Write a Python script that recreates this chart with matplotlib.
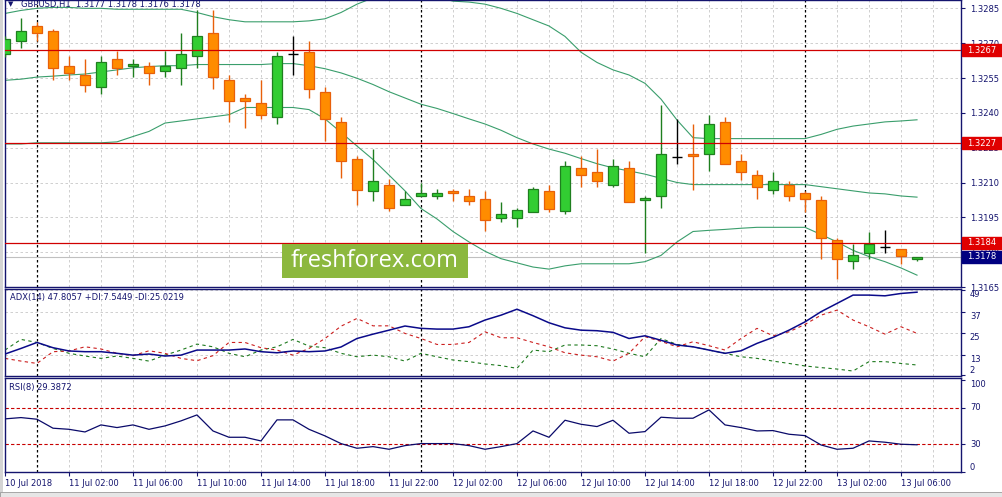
import matplotlib
matplotlib.use('Agg')
import matplotlib.pyplot as plt
from matplotlib.patches import Rectangle
import numpy as np
import pandas as pd

# GBPUSD H1 bars, 10 Jul 22:00 .. 13 Jul 07:00
start_time = '2018-07-10 22:00'
opens = [1.32652, 1.32711, 1.32774, 1.32751, 1.32603, 1.32563, 1.32513, 1.32630, 1.32603, 1.32603,
         1.32581, 1.32594, 1.32643, 1.32742, 1.32540, 1.32464, 1.32441, 1.32383, 1.32652, 1.32661,
         1.32491, 1.32361, 1.32203, 1.32064, 1.32091, 1.32001, 1.32042, 1.32042, 1.32064, 1.32042,
         1.32028, 1.31947, 1.31947, 1.31974, 1.32064, 1.31979, 1.32163, 1.32145, 1.32091, 1.32163,
         1.32024, 1.32042, 1.32208, 1.32221, 1.32221, 1.32361, 1.32194, 1.32132, 1.32069, 1.32091,
         1.32055, 1.32024, 1.31853, 1.31763, 1.31795, 1.31822, 1.31813, 1.31770]
highs = [1.32733, 1.32810, 1.32792, 1.32760, 1.32643, 1.32630, 1.32643, 1.32666, 1.32630, 1.32621,
         1.32666, 1.32742, 1.32841, 1.32841, 1.32563, 1.32482, 1.32540, 1.32661, 1.32733, 1.32711,
         1.32513, 1.32383, 1.32212, 1.32244, 1.32114, 1.32064, 1.32096, 1.32073, 1.32073, 1.32073,
         1.32064, 1.32015, 1.31992, 1.32082, 1.32091, 1.32194, 1.32212, 1.32244, 1.32203, 1.32194,
         1.32042, 1.32432, 1.32374, 1.32352, 1.32392, 1.32383, 1.32221, 1.32154, 1.32145, 1.32105,
         1.32064, 1.32042, 1.31862, 1.31835, 1.31885, 1.31894, 1.31813, 1.31780]
lows = [1.32639, 1.32679, 1.32711, 1.32540, 1.32540, 1.32491, 1.32482, 1.32563, 1.32554, 1.32522,
        1.32554, 1.32522, 1.32594, 1.32504, 1.32361, 1.32334, 1.32374, 1.32352, 1.32563, 1.32464,
        1.32280, 1.32118, 1.32001, 1.32019, 1.31979, 1.32001, 1.32042, 1.32028, 1.32019, 1.32001,
        1.31889, 1.31929, 1.31907, 1.31974, 1.31974, 1.31965, 1.32082, 1.32082, 1.32082, 1.32015,
        1.31795, 1.31992, 1.32181, 1.32069, 1.32150, 1.32181, 1.32109, 1.32028, 1.32051, 1.32019,
        1.31974, 1.31772, 1.31683, 1.31727, 1.31772, 1.31795, 1.31750, 1.31760]
closes = [1.32720, 1.32751, 1.32742, 1.32594, 1.32572, 1.32522, 1.32621, 1.32594, 1.32612, 1.32572,
          1.32603, 1.32652, 1.32733, 1.32554, 1.32450, 1.32450, 1.32392, 1.32643, 1.32652, 1.32504,
          1.32374, 1.32194, 1.32069, 1.32105, 1.31992, 1.32028, 1.32055, 1.32055, 1.32055, 1.32019,
          1.31938, 1.31965, 1.31983, 1.32073, 1.31988, 1.32172, 1.32132, 1.32105, 1.32172, 1.32015,
          1.32033, 1.32221, 1.32208, 1.32212, 1.32352, 1.32181, 1.32145, 1.32082, 1.32105, 1.32042,
          1.32028, 1.31862, 1.31772, 1.31786, 1.31835, 1.31822, 1.31782, 1.31780]

# Bollinger bands
bb_upper = [1.32828, 1.32841, 1.32850, 1.32854, 1.32854, 1.32850, 1.32850, 1.32846, 1.32846, 1.32846,
            1.32846, 1.32846, 1.32832, 1.32814, 1.32801, 1.32792, 1.32792, 1.32792, 1.32792, 1.32796,
            1.32805, 1.32832, 1.32868, 1.32895, 1.32913, 1.32917, 1.32913, 1.32899, 1.32881, 1.32877,
            1.32868, 1.32850, 1.32828, 1.32801, 1.32774, 1.32729, 1.32661, 1.32617, 1.32585, 1.32563,
            1.32527, 1.32459, 1.32369, 1.32293, 1.32289, 1.32289, 1.32289, 1.32289, 1.32289, 1.32289,
            1.32289, 1.32307, 1.32329, 1.32343, 1.32352, 1.32361, 1.32365, 1.32370]
bb_mid = [1.32540, 1.32545, 1.32554, 1.32558, 1.32563, 1.32567, 1.32576, 1.32585, 1.32594, 1.32599,
          1.32603, 1.32603, 1.32608, 1.32608, 1.32608, 1.32608, 1.32608, 1.32612, 1.32612, 1.32603,
          1.32590, 1.32572, 1.32549, 1.32522, 1.32491, 1.32464, 1.32437, 1.32419, 1.32397, 1.32374,
          1.32352, 1.32325, 1.32293, 1.32266, 1.32244, 1.32226, 1.32203, 1.32181, 1.32163, 1.32150,
          1.32136, 1.32118, 1.32100, 1.32091, 1.32091, 1.32091, 1.32091, 1.32091, 1.32091, 1.32091,
          1.32091, 1.32082, 1.32073, 1.32064, 1.32055, 1.32051, 1.32042, 1.32037]
bb_lower = [1.32266, 1.32266, 1.32271, 1.32271, 1.32271, 1.32271, 1.32271, 1.32275, 1.32298, 1.32320,
            1.32356, 1.32365, 1.32374, 1.32383, 1.32392, 1.32423, 1.32423, 1.32423, 1.32423, 1.32414,
            1.32374, 1.32316, 1.32257, 1.32199, 1.32132, 1.32064, 1.31988, 1.31943, 1.31889, 1.31844,
            1.31804, 1.31772, 1.31754, 1.31736, 1.31727, 1.31741, 1.31750, 1.31750, 1.31750, 1.31750,
            1.31759, 1.31786, 1.31844, 1.31889, 1.31894, 1.31898, 1.31903, 1.31907, 1.31907, 1.31907,
            1.31907, 1.31876, 1.31844, 1.31808, 1.31781, 1.31759, 1.31732, 1.31701]

adx_main = [13.6, 16.7, 20.0, 17.1, 15.3, 14.9, 14.9, 14.0, 13.0, 13.6,
            12.5, 13.0, 15.8, 15.8, 15.8, 16.4, 14.9, 14.3, 15.3, 14.9,
            15.3, 17.5, 22.2, 24.6, 26.8, 29.1, 27.8, 27.4, 27.4, 28.7,
            32.4, 35.1, 38.4, 34.8, 30.9, 28.1, 26.8, 26.5, 25.6, 22.2,
            23.7, 21.2, 18.6, 17.6, 15.8, 14.0, 15.4, 19.5, 22.8, 26.8,
            31.4, 37.0, 41.6, 46.2, 46.2, 45.8, 47.1, 47.81]
plus_di = [15.8, 21.7, 20.0, 16.7, 14.0, 12.5, 11.2, 12.5, 11.2, 9.7,
           13.0, 15.8, 19.1, 17.6, 14.0, 12.1, 15.8, 17.6, 21.7, 18.0,
           17.1, 14.0, 12.1, 13.0, 12.1, 9.7, 14.0, 12.1, 10.3, 9.4,
           8.1, 7.2, 5.7, 15.8, 14.9, 18.6, 18.6, 18.2, 16.4, 14.0,
           12.1, 22.2, 18.9, 17.6, 15.8, 14.0, 12.1, 11.2, 9.7, 8.4,
           7.0, 6.1, 5.3, 4.2, 9.4, 9.4, 8.4, 7.54]
minus_di = [11.2, 9.7, 8.4, 14.9, 15.3, 17.6, 16.4, 14.0, 12.7, 15.4,
            14.0, 11.2, 9.9, 12.7, 20.0, 20.0, 17.1, 15.8, 13.0, 16.7,
            22.2, 29.0, 33.3, 29.2, 29.2, 25.0, 22.2, 18.9, 18.9, 20.0,
            25.9, 22.6, 22.6, 20.0, 17.6, 14.3, 13.0, 12.1, 9.7, 14.0,
            23.2, 20.6, 17.6, 20.4, 18.2, 15.8, 22.2, 27.8, 23.7, 25.9,
            30.0, 35.1, 37.9, 32.4, 28.7, 24.6, 28.7, 25.02]
rsi_vals = [57.7, 59.1, 57.3, 47.5, 46.3, 43.4, 51.1, 48.2, 51.1, 46.3,
            50.0, 55.5, 62.0, 44.5, 37.6, 37.6, 33.6, 56.6, 56.6, 46.3,
            39.1, 30.7, 25.6, 27.4, 24.5, 28.5, 30.7, 30.7, 30.7, 28.5,
            24.5, 27.4, 30.7, 44.5, 37.6, 56.2, 51.8, 49.3, 56.2, 42.0,
            43.8, 59.5, 58.4, 58.4, 67.5, 51.1, 48.2, 44.5, 44.9, 40.9,
            39.4, 29.2, 24.5, 25.6, 33.6, 32.2, 30.0, 29.39]

levels = [1.3267, 1.3227, 1.3184]
last_price = 1.3178
price_ticks = [1.3165, 1.3180, 1.3195, 1.3210, 1.3225, 1.3240, 1.3255, 1.3270, 1.3285]
adx_ticks = [2, 13, 25, 37, 49]
rsi_ticks = [0, 30, 70, 100]
rsi_levels = [30, 70]

title = 'GBPUSD,H1  1.3177 1.3178 1.3176 1.3178'
adx_title = 'ADX(14) 47.8057 +DI:7.5449 -DI:25.0219'
rsi_title = 'RSI(8) 29.3872'

NAVY = '#14146e'
BULL_FILL, BULL_EDGE = '#32cd32', '#1f7f1f'
BEAR_FILL, BEAR_EDGE = '#ff8c00', '#e8600a'
GRID = '#c8c8c8'
FONT = 6

W, H = 1003, 497
fig = plt.figure(figsize=(W / 100, H / 100), dpi=100)
fig.patch.set_facecolor('white')


def px_axes(left, top, right, bottom):
    return fig.add_axes([left / W, 1 - bottom / H, (right - left) / W, (bottom - top) / H])


ax = px_axes(4.5, 0, 961.5, 287)
ax_adx = px_axes(4.5, 288.5, 961.5, 375.7)
ax_rsi = px_axes(4.5, 378.3, 961.5, 471.7)
panels = [ax, ax_adx, ax_rsi]

o, h, l, c = (np.array(v) for v in (opens, highs, lows, closes))
x = np.arange(len(o))
times = pd.date_range(start_time, periods=len(o), freq='h')
day_bars = [i for i, t in enumerate(times) if t.hour == 0]

for a in panels:
    a.set_xlim(-0.03, 59.78)
    for sp in a.spines.values():
        sp.set_color(NAVY)
        sp.set_linewidth(1)
    for xi in range(0, 60, 2):
        if xi not in day_bars:
            a.axvline(xi, color=GRID, lw=0.6, ls=(0, (3, 3)), zorder=0)
    for xi in day_bars:
        a.axvline(xi, color='black', lw=0.9, ls=(0, (2, 2)), zorder=1)
    a.tick_params(axis='x', bottom=False, labelbottom=False)
    a.yaxis.tick_right()
    a.tick_params(axis='y', colors=NAVY, labelsize=FONT, length=3, pad=3, width=0.8)

# main panel
ax.set_ylim(1.316972, 1.328859)
for lv in price_ticks:
    ax.axhline(lv, color=GRID, lw=0.6, ls=(0, (3, 3)), zorder=0)
ax.set_yticks(price_ticks)
ax.set_yticklabels(['%.4f' % v for v in price_ticks])
ax.axhline(last_price, color='#c0c0c0', lw=0.8, zorder=1)

for band in (bb_upper, bb_mid, bb_lower):
    ax.plot(x, band, color='#3a9e6c', lw=0.8, zorder=2)

up = c > o
dn = c < o
dj = c == o
bw = 0.6
ax.vlines(x[up], l[up], h[up], color=BULL_EDGE, lw=1, zorder=3)
ax.bar(x[up], c[up] - o[up], bottom=o[up], width=bw, color=BULL_FILL,
       edgecolor=BULL_EDGE, linewidth=0.9, zorder=4)
ax.vlines(x[dn], l[dn], h[dn], color=BEAR_EDGE, lw=1, zorder=3)
ax.bar(x[dn], o[dn] - c[dn], bottom=c[dn], width=bw, color=BEAR_FILL,
       edgecolor=BEAR_EDGE, linewidth=0.9, zorder=4)
ax.vlines(x[dj], l[dj], h[dj], color='black', lw=1, zorder=3)
ax.hlines(c[dj], x[dj] - bw / 2, x[dj] + bw / 2, color='black', lw=1, zorder=4)

ytr = ax.get_yaxis_transform()
box_h = 0.00052
for lv in levels:
    ax.axhline(lv, color='#d00000', lw=0.9, zorder=5)
for lv, col in [(v, '#e00000') for v in levels] + [(last_price, '#000080')]:
    ax.add_patch(Rectangle((1.0006, lv - box_h / 2), 0.0415, box_h, transform=ytr,
                           facecolor=col, edgecolor=col, clip_on=False, zorder=10))
    ax.text(1.0062, lv, '%.4f' % lv, transform=ytr, color='white', fontsize=FONT,
            va='center', ha='left', clip_on=False, zorder=11)

# ADX panel
ax_adx.set_ylim(1.62, 49.85)
for lv in adx_ticks[1:]:
    ax_adx.axhline(lv, color=GRID, lw=0.6, ls=(0, (3, 3)), zorder=0)
ax_adx.plot(x, plus_di, color='#1e7a1e', lw=0.8, ls=(0, (3, 3)), zorder=2)
ax_adx.plot(x, minus_di, color='#cc1f1f', lw=0.8, ls=(0, (3, 3)), zorder=2)
ax_adx.plot(x, adx_main, color='#0a0a8a', lw=1.1, zorder=3)
ax_adx.set_yticks(adx_ticks)
ax_adx.set_yticklabels([str(v) for v in adx_ticks])
for lbl, va in zip(ax_adx.get_yticklabels(), ['bottom', 'top', 'top', 'top', 'top']):
    lbl.set_va(va)

# RSI panel
ax_rsi.set_ylim(0, 102)
for lv in rsi_levels:
    ax_rsi.axhline(lv, color='#c80000', lw=0.8, ls=(0, (3, 2)), zorder=1)
ax_rsi.plot(x, rsi_vals, color='#0a0a6a', lw=0.9, zorder=3)
ax_rsi.set_yticks(rsi_ticks)
ax_rsi.set_yticklabels([str(v) for v in rsi_ticks])
for lbl, va in zip(ax_rsi.get_yticklabels(), ['bottom', 'center', 'center', 'top']):
    lbl.set_va(va)

xt = list(range(0, len(o), 4))
xlabels = [times[i].strftime('%d %b %Y') if i == 0 else times[i].strftime('%d %b %H:%M') for i in xt]
ax_rsi.set_xticks(xt)
ax_rsi.set_xticklabels(xlabels, ha='left')
ax_rsi.tick_params(axis='x', bottom=True, labelbottom=True, colors=NAVY, labelsize=FONT,
                   length=3, pad=2, width=0.8)

# texts
fig.text(8 / W, 1 - 4 / H, '\u25bc', color=NAVY, fontsize=5, va='center')
fig.text(21 / W, 1 - 4 / H, title, color=NAVY, fontsize=FONT, va='center')
fig.text(10 / W, 1 - 297.7 / H, adx_title, color=NAVY, fontsize=FONT, va='center')
fig.text(9 / W, 1 - 387.7 / H, rsi_title, color=NAVY, fontsize=FONT, va='center')

# watermark
fig.add_artist(Rectangle((282 / W, 1 - 278 / H), 186 / W, 34 / H, transform=fig.transFigure,
                         facecolor='#8cb83e', edgecolor='none', zorder=20))
fig.text(375 / W, 1 - 261 / H, 'freshforex.com', color='white', fontsize=17,
         family=['Open Sans', 'DejaVu Sans'], ha='center', va='center', zorder=21)

# window frame bits
fig.add_artist(Rectangle((0, 0), 3 / W, 1, transform=fig.transFigure,
                         facecolor='#d4d4d4', edgecolor='none'))
fig.add_artist(Rectangle((0, 0), 1, 5 / H, transform=fig.transFigure,
                         facecolor='#e6e6e6', edgecolor='#9a9a9a', lw=0.6))

fig.savefig('out.png', dpi=100)
